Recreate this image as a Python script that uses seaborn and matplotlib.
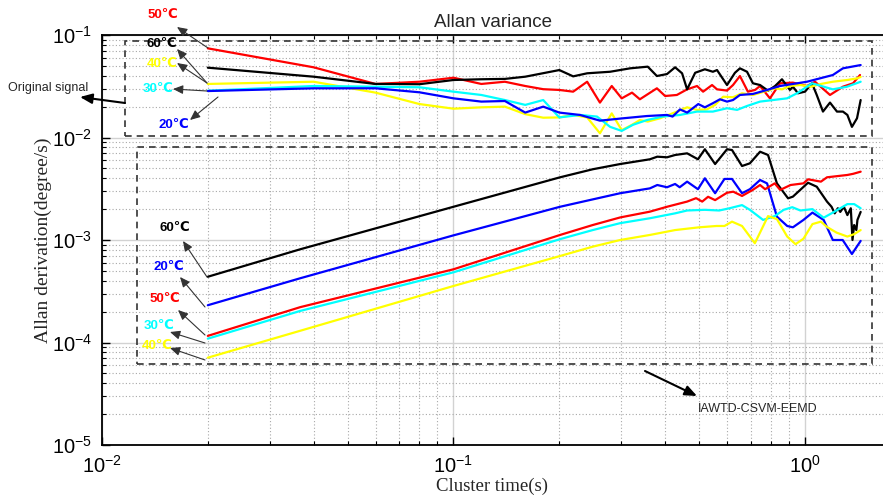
import numpy as np
import matplotlib
matplotlib.use("Agg")
import matplotlib.pyplot as plt
from matplotlib.ticker import LogLocator, NullFormatter, LogFormatterSciNotation
from matplotlib.patches import Rectangle
import seaborn as sns

# ---------------- data ----------------
temps = ["20℃", "30℃", "40℃", "50℃", "60℃"]
colors = {"20℃": "#0000ff", "30℃": "#00ffff", "40℃": "#ffff00", "50℃": "#ff0000", "60℃": "#000000"}

# Original signal (upper group)
x_top_red = [0.02,0.04,0.06,0.08,0.1,0.12,0.14,0.16,0.18,0.2,0.219,0.24,0.261,0.282,0.301,0.322,0.339,0.379,0.4,0.432,
             0.462,0.493,0.513,0.544,0.562,0.6,0.624,0.653,0.688,0.721,0.745,0.795,0.849,0.924,1.013,1.068,1.178,1.282,1.37,1.434]
y_top_red = [0.0741,0.0484,0.0333,0.0350,0.0383,0.0333,0.0350,0.0318,0.0296,0.0291,0.0280,0.0350,0.0219,0.0318,0.0241,
             0.0274,0.0236,0.0302,0.0254,0.0260,0.0295,0.0318,0.0280,0.0325,0.0295,0.0287,0.0325,0.0398,0.0280,0.0291,
             0.0318,0.0241,0.0338,0.0343,0.0318,0.0350,0.0260,0.0313,0.0338,0.0407]

x_top_black = [0.02,0.04,0.06,0.08,0.1,0.12,0.14,0.16,0.2,0.219,0.240,0.279,0.318,0.357,0.379,0.405,0.427,0.447,0.462,0.487,
               0.519,0.547,0.562,0.600,0.632,0.653,0.684,0.711,0.745,0.785,0.822,0.860,0.906,0.924,0.955,1.0,1.047,1.08,
               1.125,1.178,1.233,1.282,1.32,1.36,1.406,1.44]
y_top_black = [0.0480,0.0392,0.0333,0.0331,0.0364,0.0370,0.0373,0.0392,0.0455,0.0395,0.0423,0.0438,0.0473,0.0491,0.0398,
               0.0416,0.0484,0.0423,0.0295,0.0428,0.0463,0.0438,0.0455,0.0325,0.0428,0.0473,0.0438,0.0338,0.0325,0.0286,
               0.0318,0.0370,0.0291,0.0313,0.0270,0.0280,0.0338,0.0260,0.0179,0.0219,0.0179,0.0179,0.0166,0.0127,0.0154,0.0232]

x_top_yellow = [0.02,0.04,0.06,0.08,0.1,0.12,0.14,0.16,0.18,0.2,0.219,0.24,0.261,0.282,0.301,0.322,0.339,0.357,0.387,0.432,
                0.462,0.493,0.526,0.555,0.585,0.624,0.662,0.711,0.764,0.82,0.86,0.906,0.97,1.04,1.11,1.20,1.32,1.41,1.44]
y_top_yellow = [0.0333,0.0350,0.0274,0.0212,0.0191,0.0197,0.0200,0.0169,0.0156,0.0157,0.0166,0.0157,0.0110,0.0172,0.0118,
                0.0133,0.0148,0.0143,0.0154,0.0179,0.0197,0.0186,0.0188,0.0208,0.0250,0.0247,0.0270,0.0260,0.0280,0.0302,
                0.0295,0.0318,0.0325,0.0313,0.0333,0.0350,0.0364,0.0378,0.0390]

x_top_cyan = [0.02,0.04,0.06,0.08,0.1,0.12,0.14,0.16,0.18,0.2,0.229,0.256,0.279,0.301,0.324,0.355,0.394,0.441,0.493,0.547,
              0.60,0.641,0.684,0.745,0.811,0.889,0.949,1.047,1.20,1.317,1.44]
y_top_cyan = [0.0286,0.0318,0.0313,0.0309,0.0280,0.0260,0.0232,0.0208,0.0232,0.0157,0.0166,0.0160,0.0127,0.0116,0.0133,
              0.0148,0.0160,0.0166,0.0179,0.0179,0.0193,0.0186,0.0203,0.0224,0.0232,0.0241,0.0270,0.0338,0.0295,0.0313,0.0350]

x_top_blue = [0.02,0.04,0.06,0.08,0.1,0.12,0.14,0.16,0.18,0.2,0.229,0.261,0.304,0.355,0.405,0.42,0.441,0.462,0.497,0.519,
              0.547,0.573,0.60,0.624,0.653,0.711,0.78,0.849,0.924,1.013,1.20,1.282,1.44]
y_top_blue = [0.0284,0.0302,0.0302,0.0276,0.0241,0.0224,0.0227,0.0175,0.0200,0.0175,0.0166,0.0146,0.0154,0.0162,0.0166,
              0.0160,0.0188,0.0175,0.0212,0.0197,0.0216,0.0236,0.0224,0.0232,0.0260,0.0266,0.0291,0.0318,0.0333,0.0350,
              0.0407,0.0473,0.0509]

# IAWTD-CSVM-EEMD (lower group)
x_low_black = [0.02,0.0366,0.1,0.201,0.249,0.298,0.362,0.38,0.405,0.427,0.462,0.496,0.519,0.555,0.600,0.62,0.662,0.697,
               0.745,0.785,0.832,0.895,0.924,1.02,1.08,1.155,1.19,1.215,1.24,1.26,1.29,1.32,1.35,1.365,1.38,1.40,1.41,1.44]
y_low_black = [0.000438,0.000811,0.00211,0.00409,0.00490,0.00551,0.00613,0.00650,0.00641,0.00675,0.00701,0.00613,0.00768,
               0.00551,0.00768,0.00755,0.00527,0.00560,0.00727,0.00675,0.00357,0.00255,0.00265,0.00362,0.00331,0.00237,
               0.00211,0.00182,0.00204,0.00188,0.00211,0.00175,0.00204,0.00100,0.00140,0.00125,0.00157,0.00188]

x_low_blue = [0.02,0.0366,0.1,0.201,0.249,0.298,0.362,0.38,0.405,0.427,0.44,0.462,0.496,0.519,0.555,0.59,0.62,0.662,0.697,
              0.745,0.78,0.832,0.89,0.924,0.99,1.05,1.13,1.20,1.28,1.36,1.44]
y_low_blue = [0.000231,0.000423,0.00111,0.00211,0.00249,0.00286,0.00319,0.00344,0.00327,0.00352,0.00327,0.00371,0.00313,
              0.00400,0.00286,0.00394,0.00394,0.00286,0.00313,0.00385,0.00357,0.00169,0.00137,0.00133,0.00157,0.00185,
              0.00157,0.00100,0.00100,0.00073,0.00098]

x_low_red = [0.02,0.0366,0.1,0.201,0.249,0.298,0.362,0.405,0.462,0.49,0.51,0.53,0.555,0.60,0.625,0.662,0.71,0.745,0.77,
             0.82,0.85,0.91,0.99,1.02,1.11,1.155,1.32,1.37,1.44]
y_low_red = [0.000116,0.000221,0.000518,0.00112,0.00140,0.00166,0.00189,0.00211,0.00237,0.00256,0.00237,0.00264,0.00245,
             0.00289,0.00296,0.00269,0.00308,0.00344,0.00313,0.00357,0.00308,0.00344,0.00357,0.00391,0.00371,0.00409,
             0.00431,0.00442,0.00464]

x_low_cyan = [0.02,0.0366,0.1,0.201,0.249,0.298,0.362,0.427,0.462,0.519,0.57,0.61,0.662,0.697,0.76,0.82,0.87,0.92,0.97,
              1.01,1.05,1.13,1.2,1.32,1.38,1.44]
y_low_cyan = [0.000109,0.000203,0.000484,0.00102,0.00125,0.00146,0.00163,0.00182,0.00194,0.00197,0.00194,0.00204,0.00219,
              0.00197,0.00157,0.00171,0.00197,0.00209,0.00194,0.00197,0.00200,0.00165,0.00185,0.00224,0.00224,0.00204]

x_low_yellow = [0.02,0.0366,0.1,0.201,0.249,0.298,0.362,0.427,0.50,0.56,0.59,0.62,0.662,0.72,0.785,0.832,0.89,0.94,0.99,
                1.05,1.11,1.155,1.23,1.32,1.38,1.44]
y_low_yellow = [0.0000711,0.000130,0.000356,0.000698,0.000861,0.00100,0.00112,0.00125,0.00133,0.00137,0.00137,0.00151,
                0.00137,0.00093,0.00171,0.00160,0.00108,0.00091,0.00103,0.00143,0.00151,0.00134,0.00118,0.00108,0.00114,
                0.00125]

top_series = {"50℃": (x_top_red, y_top_red), "60℃": (x_top_black, y_top_black), "40℃": (x_top_yellow, y_top_yellow),
              "30℃": (x_top_cyan, y_top_cyan), "20℃": (x_top_blue, y_top_blue)}
low_series = {"60℃": (x_low_black, y_low_black), "20℃": (x_low_blue, y_low_blue), "50℃": (x_low_red, y_low_red),
              "30℃": (x_low_cyan, y_low_cyan), "40℃": (x_low_yellow, y_low_yellow)}

# ---------------- style ----------------
sns.set_theme(style="white")
plt.rcParams["font.family"] = ["Liberation Sans", "DejaVu Sans"]
plt.rcParams["mathtext.default"] = "regular"

W, H = 883, 497
fig = plt.figure(figsize=(W / 100, H / 100), dpi=100)
ax = fig.add_axes([102 / W, 52 / H, 781 / W, 410 / H])
ax.set_xscale("log")
ax.set_yscale("log")
ax.set_xlim(0.01, 1.667)
ax.set_ylim(1e-5, 1e-1)

for name, (xs, ys) in top_series.items():
    sns.lineplot(x=xs, y=ys, color=colors[name], linewidth=1.6, ax=ax, sort=False, estimator=None)
for name, (xs, ys) in low_series.items():
    sns.lineplot(x=xs, y=ys, color=colors[name], linewidth=1.6, ax=ax, sort=False, estimator=None)

# grids
ax.xaxis.set_minor_locator(LogLocator(base=10, subs=np.arange(2, 10), numticks=50))
ax.yaxis.set_minor_locator(LogLocator(base=10, subs=np.arange(2, 10), numticks=50))
ax.xaxis.set_minor_formatter(NullFormatter())
ax.yaxis.set_minor_formatter(NullFormatter())
ax.xaxis.set_major_formatter(LogFormatterSciNotation())
ax.yaxis.set_major_formatter(LogFormatterSciNotation())
ax.grid(which="major", color="#d2d2d2", linestyle="-", linewidth=1.0)
ax.grid(which="minor", color="#a8a8a8", linestyle=(0, (1, 2)), linewidth=0.8)
ax.set_axisbelow(True)

ax.tick_params(which="both", direction="in", top=True, right=False, left=True, bottom=True, colors="black")
ax.tick_params(which="major", length=6, width=1.0, labelsize=14.5, pad=7)
ax.tick_params(which="minor", length=3, width=0.8)
for side in ["left", "bottom", "top"]:
    ax.spines[side].set_color("black")
    ax.spines[side].set_linewidth(1.3)
ax.spines["right"].set_visible(False)

ax.set_title("Allan variance", fontsize=13.5, pad=6)
ax.set_xlabel("Cluster time(s)", family="Liberation Serif", fontsize=13.5, labelpad=1)
ax.set_ylabel("Allan derivation(degree/s)", family="Liberation Serif", fontsize=14, labelpad=0)

# dashed boxes
box_kw = dict(fill=False, edgecolor="#333333", linestyle=(0, (4, 3)), linewidth=1.2)
ax.add_patch(Rectangle((0.01162, 0.01035), 1.548 - 0.01162, 0.0874 - 0.01035, **box_kw))
ax.add_patch(Rectangle((0.0126, 6.12e-5), 1.548 - 0.0126, 0.00802 - 6.12e-5, **box_kw))

# annotations (positions in figure pixels measured from the top)
def fp(px, py):
    return (px, H - py)

arrow_kw = dict(arrowstyle="-|>,head_length=0.5,head_width=0.22", color="#333333", lw=0.8, shrinkA=0, shrinkB=0)
lab_kw = dict(xycoords="figure pixels", fontsize=9.5, fontweight="bold", ha="center", va="center",
              family=["Liberation Sans", "DejaVu Sans"])

top_labels = {"50℃": ((163, 15), (177, 27), (208, 48)),
              "60℃": ((162, 44), (177, 49), (207, 83)),
              "40℃": ((162, 64), (177, 63), (207, 83)),
              "30℃": ((158, 89), (173, 89), (207, 91)),
              "20℃": ((174, 125), (190, 120), (218, 97))}
low_labels = {"60℃": ((175, 228), (183, 241), (207, 277)),
              "20℃": ((169, 267), (180, 277), (205, 307)),
              "50℃": ((165, 299), (178, 310), (205, 335)),
              "30℃": ((159, 326), (170, 332), (205, 343)),
              "40℃": ((157, 346), (170, 348), (205, 360))}
for labels in (top_labels, low_labels):
    for name, (tpos, tip, tail) in labels.items():
        ax.annotate(name, xy=fp(*tpos), color=colors[name], **lab_kw)
        ax.annotate("", xy=fp(*tip), xycoords="figure pixels", xytext=fp(*tail), textcoords="figure pixels",
                    arrowprops=arrow_kw)

ax.annotate("Original signal", xy=fp(48, 88), xycoords="figure pixels", fontsize=9, ha="center", va="center")
ax.annotate("", xy=fp(80, 97), xycoords="figure pixels", xytext=fp(125, 103), textcoords="figure pixels",
            arrowprops=dict(arrowstyle="-|>,head_length=0.6,head_width=0.25", color="black", lw=1.5,
                            shrinkA=0, shrinkB=0))
ax.annotate("IAWTD-CSVM-EEMD", xy=fp(698, 409), xycoords="figure pixels", fontsize=9, ha="left", va="center")
ax.annotate("", xy=fp(697, 396), xycoords="figure pixels", xytext=fp(645, 371), textcoords="figure pixels",
            arrowprops=dict(arrowstyle="-|>,head_length=0.6,head_width=0.25", color="black", lw=1.5,
                            shrinkA=0, shrinkB=0))

fig.savefig("out.png", dpi=100)
